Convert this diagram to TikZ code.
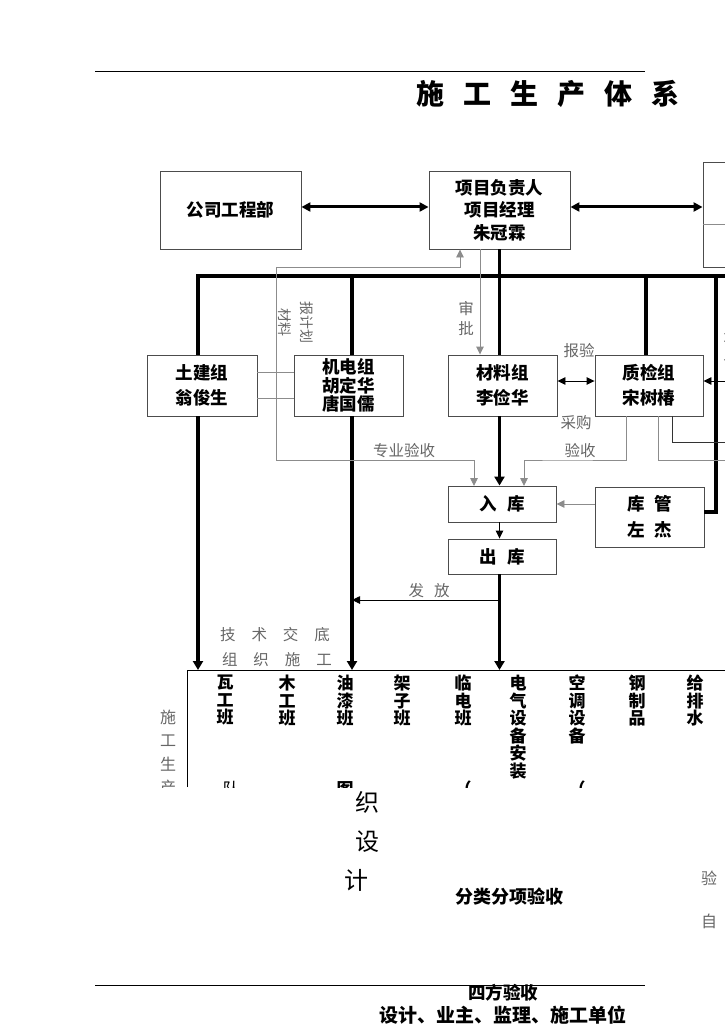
\documentclass[tikz,border=0pt]{standalone}
\usepackage{fontspec}
\setmainfont{Noto Sans CJK SC}
\usetikzlibrary{arrows.meta}
\begin{document}
\begin{tikzpicture}[x=1pt,y=-1pt,
  box/.style={draw=black!70, line width=0.9pt, fill=white, align=center, inner sep=0pt,
    font=\fontsize{17.5}{22.5}\selectfont\bfseries},
  hl/.style={line width=3.4pt, line join=miter},
  tl/.style={line width=0.9pt, draw=black},
  gl/.style={line width=0.9pt, draw=black!45},
  tipS/.style={-{Triangle[length=8pt,width=7.5pt]}},
  tipH/.style={-{Triangle[length=9pt,width=10pt]}},
  tipB/.style={{Triangle[length=9pt,width=9pt]}-{Triangle[length=9pt,width=9pt]}},
  tipD/.style={{Triangle[length=8pt,width=7.5pt]}-{Triangle[length=8pt,width=7.5pt]}},
  glbl/.style={text=black!60, inner sep=0pt, font=\fontsize{15.5}{20}\selectfont},
  team/.style={anchor=north, align=center, inner sep=0pt, font=\fontsize{17}{17.5}\selectfont\bfseries},
]
\useasboundingbox (0,0) rectangle (724,1024);

% header / footer lines and title
\draw[line width=1pt] (95,72) -- (645,72);
\draw[line width=1pt] (95,985) -- (645,985);
\node[inner sep=0pt, font=\fontsize{28}{28}\selectfont\bfseries] (title) at (548,94)
  {施\hspace{19pt}工\hspace{19pt}生\hspace{19pt}产\hspace{19pt}体\hspace{19pt}系};

% boxes
\node[box, minimum width=141pt, minimum height=78pt] (A) at (230.5,210) {公司工程部};
\node[box, minimum width=141pt, minimum height=78pt] (B) at (499.5,210) {项目负责人\\项目经理\\朱冠霖};
\node[box, minimum width=57pt, minimum height=105pt] (C) at (731.5,214.5) {};
\draw[gl] (703,224) -- (760,224);
\node[box, minimum width=110pt, minimum height=61pt, font=\fontsize{17.5}{25}\selectfont\bfseries] (T) at (202,385.5) {土建组\\翁俊生};
\node[box, minimum width=109pt, minimum height=61pt, font=\fontsize{17.5}{18.5}\selectfont\bfseries] (J) at (348.5,385.5) {机电组\\胡定华\\唐国儒};
\node[box, minimum width=109pt, minimum height=61pt, font=\fontsize{17.5}{25}\selectfont\bfseries] (M) at (502.5,385.5) {材料组\\李俭华};
\node[box, minimum width=108pt, minimum height=61pt, font=\fontsize{17.5}{25}\selectfont\bfseries] (Q) at (649,385.5) {质检组\\宋树椿};
\node[box, minimum width=108pt, minimum height=36pt] (R) at (502,504) {入\hspace{10pt}库};
\node[box, minimum width=108pt, minimum height=35pt] (O) at (502,556.5) {出\hspace{10pt}库};
\node[box, minimum width=109pt, minimum height=60pt, font=\fontsize{17.5}{26}\selectfont\bfseries] (K) at (649.5,517) {库\hspace{10pt}管\\左\hspace{10pt}杰};

% top double arrows
\draw[hl, line width=3pt, tipB] ([yshift=3pt]A.east) -- ([yshift=3pt]B.west);
\draw[hl, line width=3pt, tipB] ([yshift=3pt]B.east) -- ([yshift=3pt]B.east -| C.west);

% bus and thick verticals
\coordinate (bL) at (198,276);
\coordinate (bJ) at (352,276);
\coordinate (bQ) at (646,276);
\coordinate (bR) at (716,276);
\coordinate (F) at (187,670);
\draw[hl] (bL |- T.north) -- (bL) -- (740,276);
\draw[hl] (B.south) -- (B.south |- M.north);
\draw[hl] (bJ) -- (bJ |- J.north);
\draw[hl] (bQ) -- (bQ |- Q.north);
\draw[hl] (bR) |- ([yshift=5pt]K.east);
\draw[hl, tipH] (bL |- T.south) -- (bL |- F);
\draw[hl, tipH] (bJ |- J.south) -- (bJ |- F);
\draw[hl, tipH] (B.south |- M.south) -- (B.south |- R.north);
\draw[tl, tipS] (B.south |- R.south) -- (B.south |- O.north);
\draw[hl, tipH] (B.south |- O.south) -- (B.south |- F);

% frame of the teams
\draw[line width=1pt] (187,787) -- (F) -- (740,670);

% gray thin lines
\coordinate (pL) at (276,460);
\coordinate (pA) at (460,267);
\coordinate (sp) at (480,249);
\coordinate (r1) at (474,486);
\coordinate (r3) at (524,486);
\draw[gl, tipS] (pL) |- (pA) -- (pA |- B.south);
\draw[gl, tipS] (sp) -- (sp |- M.north);
\draw[gl, tipS] (pL) -| (r1);
\draw[gl] ([yshift=13.5pt]T.east) -- ([yshift=13.5pt]J.west);
\draw[gl] ([yshift=-12.5pt]T.east) -- ([yshift=-12.5pt]J.west);
\draw[gl, tipS] ([xshift=-23pt]Q.south) |- (560,460) -| (r3);
\draw[gl] ([xshift=9pt]Q.south) |- (740,460);
\draw[tl, draw=black!80] ([xshift=23pt]Q.south) |- (740,442);
\draw[gl, tipS] (K.west |- R.east) -- (R.east);

% thin black arrows
\draw[tl, tipD] ([yshift=4.5pt]M.east) -- ([yshift=4.5pt]Q.west);
\coordinate (qr) at (740,381);
\draw[tl, tipS] (qr) -- (qr -| Q.east);
\coordinate (ff) at (499.5,600);
\draw[tl, tipS] (ff) -- (ff -| bJ);

% gray labels
\node[glbl, rotate=-90, align=center, font=\fontsize{14}{22}\selectfont] (bjh) at (296,322) {报计划\\材料};
\node[glbl, align=center, font=\fontsize{15.5}{20}\selectfont] (spl) at (466,318) {审\\批};
\node[glbl] (zyys) at (404,451) {专业验收};
\node[glbl] (by) at (579,351) {报验};
\node[glbl] (cg) at (576,423) {采购};
\node[glbl] (ys) at (580,451) {验收};
\node[glbl] (ff2) at (429,591) {发\hspace{10pt}放};
\node[glbl] (jsjd) at (275,635) {技\hspace{16pt}术\hspace{16pt}交\hspace{16pt}底};
\node[glbl] (zzsg) at (277,660) {组\hspace{16pt}织\hspace{16pt}施\hspace{16pt}工};
\node[glbl] (rf1) at (731,340) {不};
\node[glbl] (rf2) at (731,362) {合};

% clipped content of the teams frame
\begin{scope}
\clip (150,660) rectangle (724,787);
\node[glbl, anchor=north, align=center, font=\fontsize{16}{23.3}\selectfont] (sgsc) at (168,710) {施\\工\\生\\产};
\node[team] (t1) at (225,675) {瓦\\工\\班};
\node[team] (t2) at (287,675) {木\\工\\班};
\node[team] (t3) at (345,675) {油\\漆\\班};
\node[team] (t4) at (402,675) {架\\子\\班};
\node[team] (t5) at (463,675) {临\\电\\班};
\node[team] (t6) at (518,675) {电\\气\\设\\备\\安\\装};
\node[team] (t7) at (577,675) {空\\调\\设\\备};
\node[team] (t8) at (637,675) {钢\\制\\品};
\node[team] (t9) at (695,675) {给\\排\\水};
\node[team, font=\fontsize{17}{17}\selectfont] (f1) at (231,781) {队};
\node[team] (f2) at (345,781) {图};
\node[team] (f3) at (463,781) {（};
\node[team] (f4) at (577,781) {（};
\end{scope}

% lower texts
\node[inner sep=0pt, font=\fontsize{24}{24}\selectfont] (z1) at (367,802) {织};
\node[inner sep=0pt, font=\fontsize{24}{24}\selectfont] (z2) at (367,842) {设};
\node[inner sep=0pt, font=\fontsize{24}{24}\selectfont] (z3) at (356,880) {计};
\node[inner sep=0pt, font=\fontsize{18}{18}\selectfont\bfseries] (flfx) at (509,897) {分类分项验收};
\node[glbl, font=\fontsize{16}{16}\selectfont] (y1) at (709,878) {验};
\node[glbl, font=\fontsize{16}{16}\selectfont] (y2) at (709,921) {自};
\node[inner sep=0pt, font=\fontsize{17.5}{17.5}\selectfont\bfseries] (sf) at (503,993) {四方验收};
\node[inner sep=0pt, font=\fontsize{19}{19}\selectfont\bfseries] (dw) at (503,1015) {设计、业主、监理、施工单位};
\end{tikzpicture}
\end{document}
